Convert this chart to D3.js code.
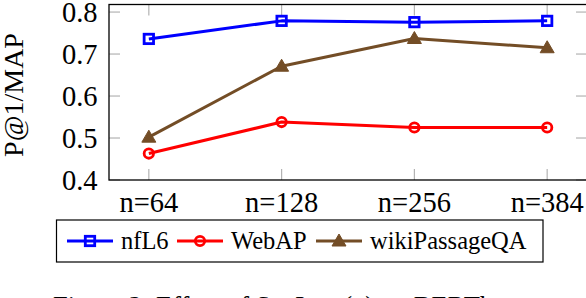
<!DOCTYPE html>
<html>
<head>
	<meta charset="utf-8">
	<title>seqlen</title>
	<style type="text/css">
		body { margin: 0; background: #fff; }
		text { font-family: "Liberation Serif", "DejaVu Serif", serif; fill: #000; }
	</style>
</head>
<body>
<script type="text/javascript" src="https://cdn.jsdelivr.net/npm/d3@7/dist/d3.min.js"></script>
<script type="text/javascript">
	// data
	var categories = ["n=64", "n=128", "n=256", "n=384"];
	var nfL6 = [0.736, 0.779, 0.776, 0.779];
	var webAP = [0.463, 0.538, 0.525, 0.525];
	var wikiPassageQA = [0.502, 0.671, 0.737, 0.715];
	var yTicks = [0.4, 0.5, 0.6, 0.7, 0.8];
	var seriesNames = ["nfL6", "WebAP", "wikiPassageQA"];

	var series = [
		{name: seriesNames[0], values: nfL6, color: "#0000ff", mark: "square"},
		{name: seriesNames[1], values: webAP, color: "#ff0000", mark: "circle"},
		{name: seriesNames[2], values: wikiPassageQA, color: "#734d26", mark: "triangle"}
	];

	var w = 586, h = 298;
	var pl = 109, pr = 587, pt = 4.5, pb = 180;

	var svg = d3.select("body").append("svg").attr("width", w).attr("height", h);

	var x = d3.scalePoint().domain(categories).range([pl, pr]).padding(0.3);
	var y = d3.scaleLinear().domain([0.4, 0.818]).range([pb, pt]);

	// grey ticks inside the frame
	var tickLen = 11;
	var g = svg.append("g").attr("stroke", "#b3b3b3").attr("stroke-width", 1.2);
	categories.forEach(function(c) {
		g.append("line").attr("x1", x(c)).attr("x2", x(c)).attr("y1", pb).attr("y2", pb - tickLen);
		g.append("line").attr("x1", x(c)).attr("x2", x(c)).attr("y1", pt).attr("y2", pt + tickLen);
	});
	yTicks.forEach(function(t) {
		g.append("line").attr("x1", pl).attr("x2", pl + tickLen).attr("y1", y(t)).attr("y2", y(t));
		g.append("line").attr("x1", pr).attr("x2", pr - tickLen).attr("y1", y(t)).attr("y2", y(t));
	});

	// frame
	svg.append("rect")
		.attr("x", pl).attr("y", pt)
		.attr("width", pr - pl).attr("height", pb - pt)
		.attr("fill", "none").attr("stroke", "#000").attr("stroke-width", 1.3);

	// tick labels
	svg.selectAll("text.ytick").data(yTicks).enter().append("text")
		.attr("class", "ytick")
		.attr("x", 97.5).attr("y", function(d) { return y(d); })
		.attr("dy", "0.34em")
		.attr("text-anchor", "end")
		.attr("font-size", 28.5)
		.text(function(d) { return d3.format(".1f")(d); });

	svg.selectAll("text.xtick").data(categories).enter().append("text")
		.attr("class", "xtick")
		.attr("x", function(d) { return x(d); }).attr("y", 211.5)
		.attr("text-anchor", "middle")
		.attr("font-size", 28.5)
		.text(function(d) { return d; });

	svg.append("text")
		.attr("transform", "translate(23,95) rotate(-90)")
		.attr("text-anchor", "middle")
		.attr("font-size", 28)
		.text("P@1/MAP");

	function drawMark(sel, type, color) {
		if (type === "square") {
			sel.append("rect").attr("x", -4.7).attr("y", -4.7).attr("width", 9.4).attr("height", 9.4)
				.attr("fill", "none").attr("stroke", color).attr("stroke-width", 2.8);
		} else if (type === "circle") {
			sel.append("circle").attr("r", 4.7)
				.attr("fill", "none").attr("stroke", color).attr("stroke-width", 2.8);
		} else {
			sel.append("path").attr("d", "M0,-7 L7,5 L-7,5 Z")
				.attr("fill", color).attr("stroke", color).attr("stroke-width", 1);
		}
	}

	var line = d3.line()
		.x(function(d, i) { return x(categories[i]); })
		.y(function(d) { return y(d); });

	series.forEach(function(s) {
		svg.append("path")
			.attr("d", line(s.values))
			.attr("fill", "none")
			.attr("stroke", s.color)
			.attr("stroke-width", 3)
			.attr("stroke-linejoin", "round");
		s.values.forEach(function(v, i) {
			var m = svg.append("g").attr("transform", "translate(" + x(categories[i]) + "," + y(v) + ")");
			drawMark(m, s.mark, s.color);
		});
	});

	// legend
	svg.append("rect")
		.attr("x", 56.5).attr("y", 220).attr("width", 486.5).attr("height", 42)
		.attr("fill", "#fff").attr("stroke", "#000").attr("stroke-width", 1.2);
	var legX = [67, 177, 316];
	series.forEach(function(s, i) {
		var lg = svg.append("g").attr("transform", "translate(" + legX[i] + ",241)");
		lg.append("line").attr("x1", 0).attr("x2", 46).attr("stroke", s.color).attr("stroke-width", 3);
		drawMark(lg.append("g").attr("transform", "translate(23,0)"), s.mark, s.color);
		lg.append("text").attr("x", 54).attr("y", 8).attr("font-size", 24.5).text(s.name);
	});

	// caption (cut off at the bottom)
	svg.append("text")
		.attr("x", 53).attr("y", 315)
		.attr("font-size", 26.5)
		.text("Figure 2: Effect of SeqLen (n) on BERTbase");
</script>
</body>
</html>
